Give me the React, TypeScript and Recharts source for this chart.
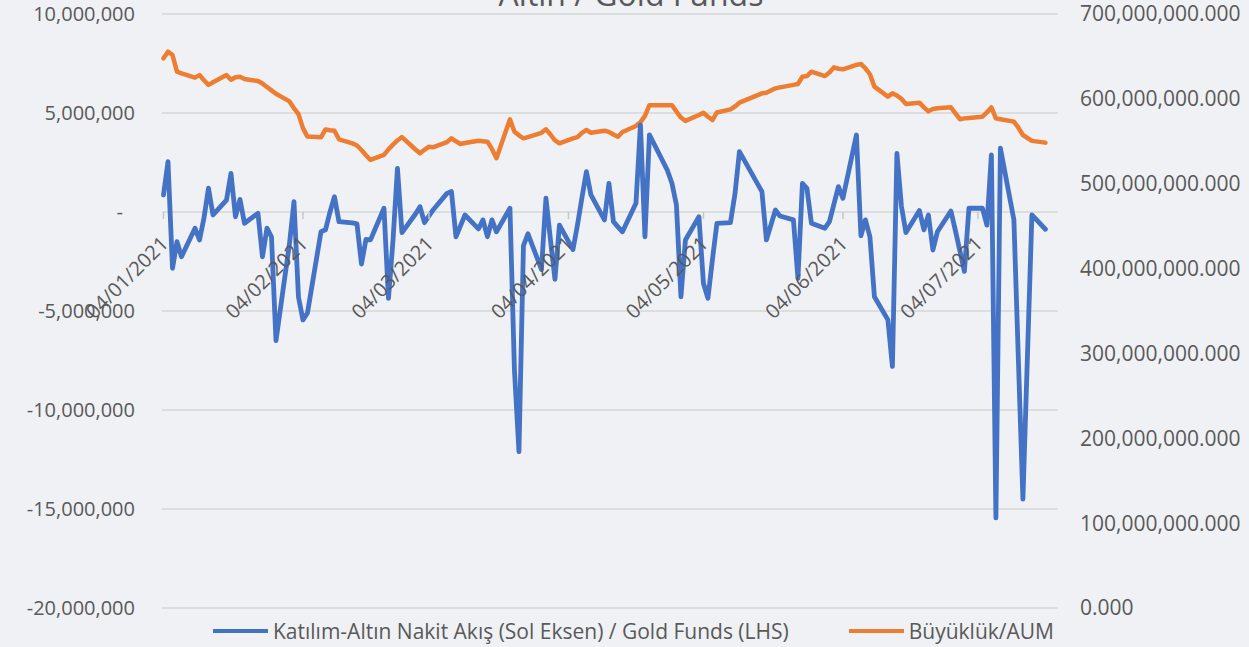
import React from 'react';
import { LineChart, Line, XAxis, YAxis, CartesianGrid } from 'recharts';

// business days, 2021 (dd/mm)
const dates = [
  '04/01', '05/01', '06/01', '07/01', '08/01', '11/01', '12/01', '13/01', '14/01', '15/01',
  '18/01', '19/01', '20/01', '21/01', '22/01', '25/01', '26/01', '27/01', '28/01', '29/01',
  '01/02', '02/02', '03/02', '04/02', '05/02', '08/02', '09/02', '10/02', '11/02', '12/02',
  '15/02', '16/02', '17/02', '18/02', '19/02', '22/02', '23/02', '24/02', '25/02', '26/02',
  '01/03', '02/03', '03/03', '04/03', '05/03', '08/03', '09/03', '10/03', '11/03', '12/03',
  '15/03', '16/03', '17/03', '18/03', '19/03', '22/03', '23/03', '24/03', '25/03', '26/03',
  '29/03', '30/03', '31/03', '01/04', '02/04', '05/04', '06/04', '07/04', '08/04', '09/04',
  '12/04', '13/04', '14/04', '15/04', '16/04', '19/04', '20/04', '21/04', '22/04', '26/04',
  '27/04', '28/04', '29/04', '30/04', '03/05', '04/05', '05/05', '06/05', '07/05', '10/05',
  '11/05', '12/05', '17/05', '18/05', '20/05', '21/05', '24/05', '25/05', '26/05', '27/05',
  '28/05', '31/05', '01/06', '02/06', '03/06', '04/06', '07/06', '08/06', '09/06', '10/06',
  '11/06', '14/06', '15/06', '16/06', '17/06', '18/06', '21/06', '22/06', '23/06', '24/06',
  '25/06', '28/06', '29/06', '30/06', '01/07', '02/07', '05/07', '06/07', '07/07', '08/07',
  '09/07', '12/07', '13/07', '14/07', '16/07', '19/07',
];

// net flow, million TL (left axis)
const flows = [
  0.86, 2.54, -2.84, -1.5, -2.26, -0.82, -1.41, -0.3, 1.2, -0.15,
  0.6, 1.95, -0.24, 0.64, -0.57, -0.07, -2.26, -0.82, -1.25, -6.5,
  -1.6, 0.52, -4.3, -5.45, -5.1, -1.0, -0.9, 0.0, 0.77, -0.49,
  -0.55, -0.6, -2.63, -1.38, -1.41, 0.19, -4.36, -1.46, 2.2, -1.04,
  -0.1, 0.27, -0.54, -0.2, 0.13, 0.94, 1.03, -1.25, -0.7, -0.15,
  -0.85, -0.4, -1.25, -0.4, -1.0, 0.19, -8.0, -12.1, -1.7, -1.1,
  -2.9, 0.7, -1.4, -3.4, -0.66, -1.9, -0.66, 0.73, 2.04, 0.86,
  -0.4, 1.45, -0.49, -0.75, -1.0, 0.44, 4.4, -1.25, 3.9, 2.1,
  1.45, 0.35, -4.28, -1.41, -0.24, -3.6, -4.36, -2.4, -0.57, -0.54,
  0.9, 3.05, 1.03, -1.41, 0.1, -0.2, -0.4, -3.35, 1.45, 1.2,
  -0.57, -0.82, -0.49, 0.4, 1.28, 0.69, 3.89, -1.2, -0.4, -1.25,
  -4.28, -5.45, -7.8, 2.96, 0.3, -1.04, 0.07, -0.9, -0.15, -1.92,
  -1.0, 0.05, -0.94, -1.97, -3.0, 0.19, 0.19, -0.66, 2.88, -15.45,
  3.22, -0.4, -7.5, -14.5, -0.15, -0.87,
];

// AUM, million (right axis)
const aum = [
  647.8, 655.6, 651.7, 632, 630, 625, 628, 622, 616.5, 619.5,
  628, 622.5, 625.5, 626, 623.5, 621, 618, 614, 610, 606,
  597, 589, 582, 565.5, 555.5, 554.7, 564, 563, 562.5, 552.3,
  547.5, 545, 539.7, 533.5, 528, 534, 540.5, 546, 551, 555,
  540.3, 535.8, 540, 543.6, 543, 549, 553.5, 550, 546.8, 548,
  550.7, 550, 549.5, 541, 530, 575.9, 561.3, 557, 553.5, 555,
  560, 564.1, 558, 551, 547.6, 553.5, 555, 560, 563.3, 560.1,
  562.5, 561, 558, 555.4, 561, 568, 572.5, 580, 592.6, 592.6,
  592.6, 585, 578, 574, 581, 583.6, 579, 575, 584, 587.6,
  591, 595.5, 606.5, 607.3, 612.4, 613.5, 616.5, 617.5, 626.1, 626.9,
  632, 626.9, 631, 637.1, 635.5, 634.8, 640, 641.1, 636, 629,
  614.4, 602.6, 606.5, 604, 600, 594, 595.5, 590, 585.5, 588,
  589, 590, 583, 576, 577, 577.5, 579, 584, 590, 577,
  576, 573.2, 566, 557.4, 550.5, 548.4,
];

const xTickLabels = ['04/01/2021', '04/02/2021', '04/03/2021', '04/04/2021', '04/05/2021', '04/06/2021', '04/07/2021'];
const leftTicks = [-20, -15, -10, -5, 0, 5, 10];
const rightTicks = [0, 100, 200, 300, 400, 500, 600, 700];

const W = 1249;
const H = 647;
const TOP = 14;
const BOTTOM = 39;
const X_AXIS_H = 30;
const PLOT_H = H - TOP - BOTTOM;
const ZERO_Y = TOP + PLOT_H * (leftTicks[6] / (leftTicks[6] - leftTicks[0]));

const TEXT = '#595959';
const FONT = '"Open Sans", sans-serif';

// days since 04/01/2021
const dayOf = (s: string) => {
  const [d, m] = s.split('/').map(Number);
  return (Date.UTC(2021, m - 1, d) - Date.UTC(2021, 0, 4)) / 86400000;
};

const data = dates.map((d, i) => ({ t: dayOf(d), flow: flows[i], aum: aum[i] }));
const xTicks = xTickLabels.map(l => dayOf(l.slice(0, 5)));

const fmtNum = (v: number, dec = 0) =>
  v.toLocaleString('en-US', { minimumFractionDigits: dec, maximumFractionDigits: dec });

// date labels sit on the zero line, not at the bottom of the plot
const DateTick = (props: any) => {
  const { x, payload } = props;
  const label = xTickLabels[xTicks.indexOf(payload.value)];
  const ax = x + 6;
  const ay = ZERO_Y + 33;
  return (
    <g>
      <line x1={x} x2={x} y1={ZERO_Y} y2={ZERO_Y + 7} stroke="#c8c8c8" strokeWidth={1.5} />
      <text x={ax} y={ay} transform={`rotate(-45, ${ax}, ${ay})`} textAnchor="end"
        fill={TEXT} fontSize={20} fontFamily={FONT}>{label}</text>
    </g>
  );
};

const LeftTick = (props: any) => {
  const { x, y, payload } = props;
  const v = payload.value;
  return (
    <text x={v === 0 ? x - 12 : x} y={y} dy="0.355em" textAnchor="end" fill={TEXT} fontSize={20} fontFamily={FONT}>
      {v === 0 ? '-' : fmtNum(v * 1e6)}
    </text>
  );
};

const App: React.FC = () => {
  return (
    <div style={{ position: 'absolute', left: 0, top: 0, width: W, height: H, background: '#eff1f4', overflow: 'hidden', fontFamily: FONT }}>
      <div style={{ position: 'absolute', left: 0, top: -22, width: 1262, textAlign: 'center', fontSize: 32, color: TEXT, lineHeight: '32px' }}>
        Altın / Gold Funds
      </div>
      <LineChart width={W} height={H} data={data} margin={{ top: TOP, right: 0, bottom: BOTTOM - X_AXIS_H, left: 0 }}>
        <CartesianGrid yAxisId="left" vertical={false} stroke="#d6d6d6" strokeWidth={1.5} />
        <XAxis dataKey="t" type="number" scale="linear" domain={[-0.33, 198.8]} ticks={xTicks} interval={0}
          height={X_AXIS_H} axisLine={false} tickLine={false} tick={<DateTick />} />
        <YAxis yAxisId="left" domain={[-20, 10]} ticks={leftTicks} width={162} axisLine={false} tickLine={false}
          tickMargin={21} tick={<LeftTick />} />
        <YAxis yAxisId="right" orientation="right" domain={[0, 700]} ticks={rightTicks} width={191} axisLine={false}
          tickLine={false} tickMargin={16} tick={{ fill: TEXT, fontSize: 21, fontFamily: FONT }}
          tickFormatter={(v: number) => fmtNum(v * 1e6, 3)} />
        <Line yAxisId="right" dataKey="aum" type="linear" stroke="#ED7D31" strokeWidth={4.5} dot={false}
          strokeLinejoin="round" strokeLinecap="round" isAnimationActive={false} />
        <Line yAxisId="left" dataKey="flow" type="linear" stroke="#4472C4" strokeWidth={4.8} dot={false}
          strokeLinejoin="round" strokeLinecap="round" isAnimationActive={false} />
      </LineChart>
      <div style={{ position: 'absolute', top: 617, left: 213, display: 'flex', alignItems: 'center', fontSize: 21, color: TEXT, lineHeight: '28px', whiteSpace: 'nowrap' }}>
        <span style={{ display: 'inline-block', width: 55, height: 4, background: '#4472C4', marginRight: 5 }} />
        <span>Katılım-Altın Nakit Akış (Sol Eksen) / Gold Funds (LHS)</span>
        <span style={{ display: 'inline-block', width: 55, height: 4, background: '#ED7D31', marginLeft: 60, marginRight: 5 }} />
        <span>Büyüklük/AUM</span>
      </div>
    </div>
  );
};

export default App;
